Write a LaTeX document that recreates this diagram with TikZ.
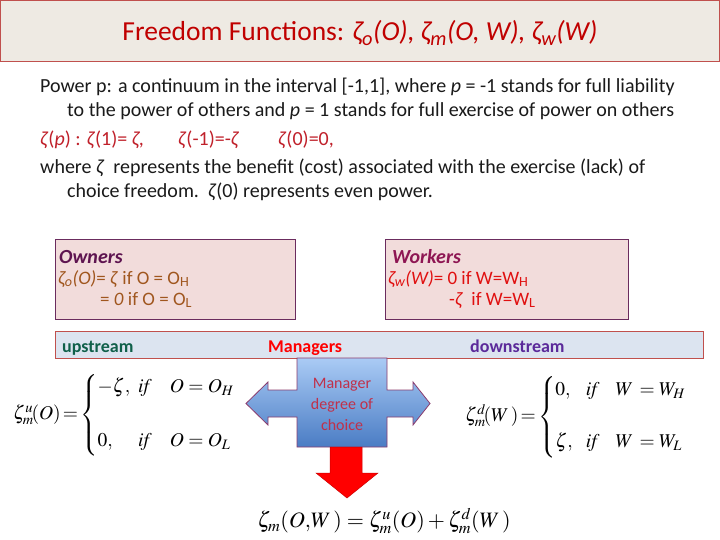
\documentclass[tikz,border=0pt]{standalone}
\usepackage{amsmath}
\usepackage{mathptmx}
\usepackage{fontspec}
\setmainfont{Carlito}
\definecolor{titlered}{HTML}{C00000}
\definecolor{titlefill}{HTML}{EEEAE3}
\definecolor{titleedge}{HTML}{C0504D}
\definecolor{bodytxt}{HTML}{1A1A1A}
\definecolor{zred}{HTML}{C0202A}
\definecolor{pinkfill}{HTML}{F2DCDB}
\definecolor{boxedge}{HTML}{6B2C5E}
\definecolor{ownhead}{HTML}{5E1450}
\definecolor{owntxt}{HTML}{A0561E}
\definecolor{workhead}{HTML}{8E1653}
\definecolor{worktxt}{HTML}{E01010}
\definecolor{stripfill}{HTML}{DCE4F0}
\definecolor{upgreen}{HTML}{10604A}
\definecolor{downpurple}{HTML}{5B2A9A}
\definecolor{bluetop}{HTML}{AACBF5}
\definecolor{bluebot}{HTML}{4A7CC4}
\definecolor{crossedge}{HTML}{8B3C6E}
\definecolor{crosstxt}{HTML}{C0304A}
\tikzset{
  body/.style={anchor=base west, text=bodytxt, font=\fontsize{20}{24}\selectfont, inner sep=0pt},
  zline/.style={anchor=base west, text=zred, font=\fontsize{20}{24}\selectfont, inner sep=0pt},
  agentbox/.style={draw=boxedge, fill=pinkfill, line width=0.8pt},
  boxtxt/.style={anchor=base west, font=\fontsize{19}{24}\selectfont, inner sep=0pt},
  striptxt/.style={anchor=base west, font=\fontsize{18}{20}\selectfont\bfseries, inner sep=0pt},
  eq/.style={font=\fontsize{19.5}{24}\selectfont, inner sep=0pt}
}
\begin{document}
\begin{tikzpicture}[x=1pt,y=-1pt]
\useasboundingbox (0,0) rectangle (720,540);
\fill[white] (0,0) rectangle (720,540);
% title
\draw[fill=titlefill, draw=titleedge, line width=1pt] (0.5,0.5) rectangle (719.5,62);
\node[anchor=base, text=titlered, font=\fontsize{27.5}{32}\selectfont, inner sep=0pt] (title) at (360,41)
  {Freedom Functions: \textit{ζ\textsubscript{o}(O), ζ\textsubscript{m}(O, W), ζ\textsubscript{w}(W)}};
% body
\node[body] (l1) at (40,93) {Power p: a continuum in the interval [-1,1], where \textit{p} = -1 stands for full liability};
\node[body] (l2) at (67,117) {to the power of others and \textit{p} = 1 stands for full exercise of power on others};
\node[zline] (l3a) at (40,146) {\textit{ζ}(\textit{p}) : \textit{ζ}(1)= \textit{ζ},};
\node[zline] (l3b) at (178,146) {\textit{ζ}(-1)=-\textit{ζ}};
\node[zline] (l3c) at (278,146) {\textit{ζ}(0)=0,};
\node[body] (l4) at (40,174) {where \textit{ζ}\ \ represents the benefit (cost) associated with the exercise (lack) of};
\node[body] (l5) at (67,198) {choice freedom.\ \ \textit{ζ}(0) represents even power.};
% owners / workers
\draw[agentbox] (55,239) rectangle (295,319);
\node[boxtxt, text=ownhead, font=\fontsize{20}{24}\selectfont\bfseries\itshape] (ownh) at (59,263) {Owners};
\node[boxtxt, text=owntxt] (own1) at (58,284) {\textit{ζ\textsubscript{o}(O)}= \textit{ζ}\ if O = O\textsubscript{H}};
\node[boxtxt, text=owntxt] (own2) at (100,305) {= \textit{0} if O = O\textsubscript{L}};
\draw[agentbox] (385,239) rectangle (628,319);
\node[boxtxt, text=workhead, font=\fontsize{20}{24}\selectfont\bfseries\itshape] (workh) at (392,263) {Workers};
\node[boxtxt, text=worktxt] (work1) at (388,284) {\textit{ζ\textsubscript{w}(W)}= 0 if W=W\textsubscript{H}};
\node[boxtxt, text=worktxt] (work2) at (449,305) {-\textit{ζ}\ \ if W=W\textsubscript{L}};
% strip
\draw[fill=stripfill, draw=titleedge, line width=0.8pt] (55,331) rectangle (703,358);
\node[striptxt, text=upgreen] (up) at (62,352) {upstream};
\node[striptxt, text=red] (mgr) at (268,352) {Managers};
\node[striptxt, text=downpurple] (down) at (470,352) {downstream};
% cross arrow
\shade[top color=bluetop, bottom color=bluebot, draw=crossedge, line width=0.8pt]
  (297,358) -- (387,358) -- (387,390) -- (413,390) -- (413,382) -- (430,403.5) -- (413,425) -- (413,417)
  -- (387,417) -- (387,447) -- (297,447) -- (297,417) -- (268,417) -- (268,425) -- (246,403.5)
  -- (268,382) -- (268,390) -- (297,390) -- cycle;
\node[align=center, text=crosstxt, font=\fontsize{16}{21}\selectfont, inner sep=0pt] (mdc) at (342,404) {Manager\\degree of\\choice};
% red arrow
\fill[red, draw=red!80!black, line width=0.5pt]
  (330,447) -- (362,447) -- (362,473) -- (378,473) -- (347,498) -- (316,473) -- (330,473) -- cycle;
% equations
\node[eq, anchor=west] (equ) at (13,415)
  {$\zeta^{u}_{m}\!(O)\!=\!\left\{\begin{array}{@{}l@{\hspace{8pt}}l@{\hspace{18pt}}l@{}}-\zeta, & \mathit{if} & O=O_H\\[30pt] 0, & \mathit{if} & O=O_L\end{array}\right.$};
\node[eq, anchor=west] (eqd) at (465,417)
  {$\zeta^{d}_{m}\!(W\,)\!=\!\left\{\begin{array}{@{}l@{\hspace{13pt}}l@{\hspace{16pt}}l@{}}0, & \mathit{if} & W\,=W_H\\[28pt] \zeta, & \mathit{if} & W\,=W_L\end{array}\right.$};
\node[eq, font=\fontsize{22}{26}\selectfont] (eqm) at (384,521)
  {$\zeta_m(O{,}W\,)=\zeta^{u}_{m}(O)+\zeta^{d}_{m}(W\,)$};
\end{tikzpicture}
\end{document}
